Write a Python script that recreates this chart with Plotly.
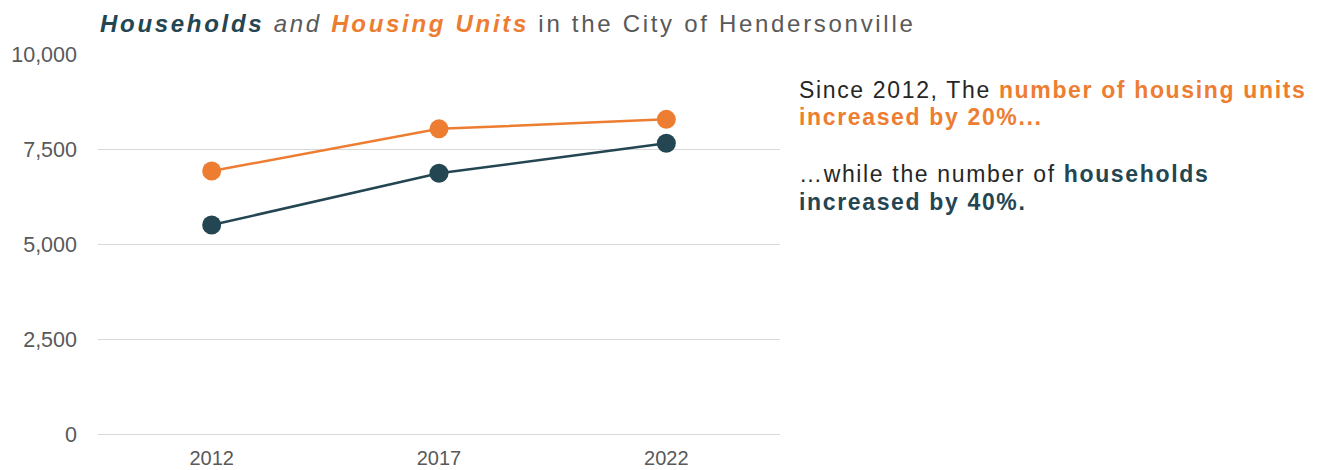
import plotly.graph_objects as go

years = ["2012", "2017", "2022"]
housing_units = [6920, 8030, 8280]
households = [5500, 6860, 7650]
y_ticks = [0, 2500, 5000, 7500, 10000]
y_tick_labels = ["0", "2,500", "5,000", "7,500", "10,000"]

ORANGE = "#ED7D31"
NAVY = "#234652"
GREY = "#595959"
FONT = "Liberation Sans, Arial, sans-serif"

fig = go.Figure()
fig.add_trace(go.Scatter(x=years, y=housing_units, mode="lines+markers",
                         line=dict(color=ORANGE, width=2.5),
                         marker=dict(color=ORANGE, size=19), name="Housing Units"))
fig.add_trace(go.Scatter(x=years, y=households, mode="lines+markers",
                         line=dict(color=NAVY, width=2.5),
                         marker=dict(color=NAVY, size=19), name="Households"))

fig.update_layout(
    width=1328, height=470,
    margin=dict(l=90, r=556, t=46, b=44),
    plot_bgcolor="white", paper_bgcolor="white",
    showlegend=False,
    font=dict(family=FONT, color=GREY, size=18),
    xaxis=dict(type="category", range=[-0.5, 2.5], showgrid=False, showline=False,
               ticks="", tickfont=dict(size=20, color=GREY), ticklabelstandoff=10,
               automargin=False),
    yaxis=dict(range=[0, 10000], tickvals=y_ticks, ticktext=y_tick_labels,
               showgrid=True, gridcolor="#D9D9D9", gridwidth=1, zeroline=True,
               zerolinecolor="#D9D9D9", zerolinewidth=1, showline=False, ticks="",
               tickfont=dict(size=21.5, color=GREY), ticklabelstandoff=20,
               automargin=False),
)

LS_T = "letter-spacing:2.7px;"
title = (f"<span style='{LS_T}'><b><i><span style='color:{NAVY};{LS_T}'>Households</span></i></b>"
         f"<i><span style='{LS_T}'> and </span></i>"
         f"<b><i><span style='color:{ORANGE};{LS_T}'>Housing Units</span></i></b>"
         f"<span style='{LS_T}'> in the City of Hendersonville</span></span>")
fig.add_annotation(text=title, xref="paper", yref="paper", x=0.0, y=1.0,
                   xanchor="left", yanchor="middle", yshift=31, showarrow=False,
                   font=dict(size=24, color=GREY, family=FONT), align="left")

LS_N = "letter-spacing:1.65px;"
lines = [
    f"<span style='{LS_N}'>Since 2012, The </span><b><span style='color:{ORANGE};{LS_N}'>number of housing units</span></b>",
    f"<b><span style='color:{ORANGE};{LS_N}'>increased by 20%...</span></b>",
    f"<span style='{LS_N}'>…while the number of </span><b><span style='color:{NAVY};{LS_N}'>households</span></b>",
    f"<b><span style='color:{NAVY};{LS_N}'>increased by 40%.</span></b>",
]
line_y = [0.905, 0.834, 0.684, 0.611]
for txt, yy in zip(lines, line_y):
    fig.add_annotation(text=txt, xref="paper", yref="paper", x=1.025, y=yy,
                       xanchor="left", yanchor="middle", showarrow=False, align="left",
                       font=dict(size=23, color="#262626", family=FONT))

fig.write_html("out.html")
